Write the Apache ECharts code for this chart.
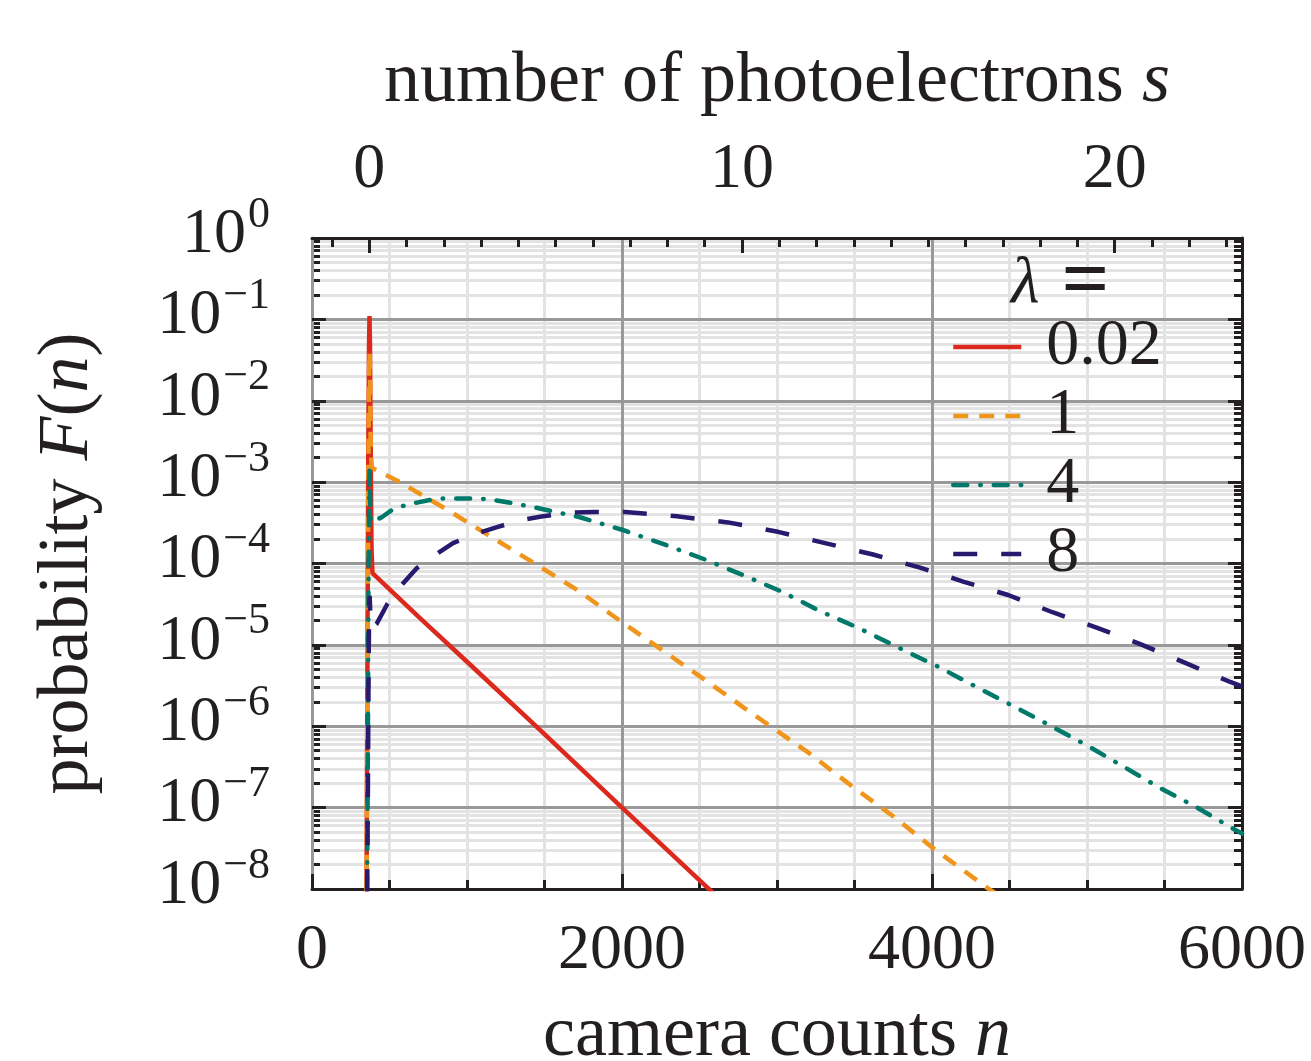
<!DOCTYPE html>
<html>
<head>
<meta charset="utf-8">
<script src="https://cdn.jsdelivr.net/npm/echarts@6/dist/echarts.min.js"></script>
<style>
html, body { margin: 0; padding: 0; background: #fff; }
#chart { width: 1311px; height: 1061px; }
</style>
</head>
<body>
<div id="chart"></div>
<script>
// values
var legendNames = ['0.02', '1', '4', '8'];

var counts002 = [340, 352, 358, 363, 368, 371, 374, 379, 384, 390, 700, 1000, 1500, 2000, 2600];
var prob002 = [1e-10, 1e-8, 1e-5, 2e-3, 5e-2, 1.1e-1, 5e-2, 2e-3, 1.5e-4, 7.6e-5, 2.1e-5, 6.2e-6, 8e-7, 1e-7, 8.5e-9];

var counts1 = [340, 352, 358, 363, 368, 371, 374, 379, 386, 567, 870, 1160, 1437, 1728, 2000, 2264, 2528, 2792, 3212, 3489, 3747, 4005, 4373, 4500];
var prob1 = [1e-10, 1e-8, 5e-6, 8e-4, 1.8e-2, 4e-2, 2e-2, 2.5e-3, 1.5e-3, 1e-3, 4.6e-4, 2.1e-4, 1e-4, 4.5e-5, 1.9e-5, 8.5e-6, 3.8e-6, 1.66e-6, 4.6e-7, 1.8e-7, 7.9e-8, 3.2e-8, 9.8e-9, 7e-9];

var counts4 = [340, 352, 360, 365, 371, 375, 380, 450, 534, 676, 811, 998, 1134, 1296, 1437, 1728, 2000, 2264, 2536, 2781, 3032, 3277, 3536, 3781, 4039, 4278, 4517, 4762, 5001, 5234, 5472, 5711, 5943, 6000];
var prob4 = [1e-10, 1e-9, 3e-7, 1e-4, 1.5e-3, 6e-4, 3.2e-4, 3.7e-4, 4.8e-4, 5.6e-4, 6.3e-4, 6.3e-4, 6.2e-4, 5.5e-4, 4.9e-4, 3.7e-4, 2.6e-4, 1.74e-4, 1.12e-4, 7.2e-5, 4.5e-5, 2.6e-5, 1.58e-5, 9.3e-6, 5.4e-6, 3.1e-6, 1.8e-6, 1.02e-6, 5.8e-7, 3.2e-7, 1.74e-7, 1.0e-7, 5.5e-8, 4.8e-8];

var counts8 = [340, 352, 360, 365, 369, 372, 376, 382, 416, 487, 577, 674, 790, 910, 1052, 1194, 1341, 1490, 1664, 1826, 2020, 2355, 2685, 3006, 3310, 3620, 3923, 4201, 4491, 4782, 5066, 5344, 5634, 5924, 6000];
var prob8 = [1e-11, 1e-9, 1e-7, 5e-6, 3e-5, 4e-5, 2.5e-5, 1.6e-5, 1.8e-5, 3.2e-5, 5.4e-5, 8.7e-5, 1.26e-4, 1.78e-4, 2.3e-4, 2.8e-4, 3.4e-4, 3.8e-4, 4.2e-4, 4.3e-4, 4.3e-4, 3.8e-4, 3.2e-4, 2.45e-4, 1.78e-4, 1.29e-4, 8.9e-5, 6.0e-5, 4.1e-5, 2.5e-5, 1.62e-5, 1.02e-5, 6.0e-6, 3.5e-6, 3.1e-6];

// top axis: photoelectron number s, n = bias + gain * s
var bias = 369;
var gain = 240.5;
var sTicks = [-1, 0, 1, 2, 3, 4, 5, 6, 7, 8, 9, 10, 11, 12, 13, 14, 15, 16, 17, 18, 19, 20, 21, 22, 23];
var sLabels = [0, 10, 20];

// decade exponents of the probability axis, labelled in two interleaved sets
var evenDecades = [-8, -6, -4, -2, 0];
var oddDecades = [-7, -5, -3, -1];
var mantissas = [2, 3, 4, 5, 6, 7, 8, 9];

var FONT = 'Liberation Serif';
var INK = '#231f20';
var MAJOR = '#999999';
var MINOR = '#e3e3e3';

function pairs(xs, ys) {
  return xs.map(function (x, i) { return [x, ys[i]]; });
}
function sToN(s) { return bias + gain * s; }

var minorLogs = [];
evenDecades.concat(oddDecades).filter(function (d) { return d < 0; }).forEach(function (d) {
  mantissas.forEach(function (m) { minorLogs.push(d + Math.log10(m)); });
});

var rich = {
  t: { fontFamily: FONT, fontSize: 72, color: INK },
  i: { fontFamily: FONT, fontSize: 72, color: INK, fontStyle: 'italic' },
  l: { fontFamily: FONT, fontSize: 66, color: INK, fontStyle: 'italic', fontWeight: 'normal' },
  q: { fontFamily: FONT, fontSize: 84, color: INK, padding: [0, 0, 0, 22] },
  b: { fontFamily: FONT, fontSize: 64, color: INK, lineHeight: 40, padding: [0, 0, 6, 0] },
  e: { fontFamily: FONT, fontSize: 44, color: INK, lineHeight: 20, padding: [0, 0, 46, 2] }
};

function powerLabel(p) {
  return '{b|10}{e|' + (p < 0 ? '\u2212' + (-p) : p) + '}';
}

function decadeLabelAxis(values) {
  return {
    type: 'value', min: -8, max: 0, position: 'left', z: 3,
    axisLine: { show: false, onZero: false }, axisTick: { show: false }, splitLine: { show: false },
    axisLabel: {
      margin: 42, customValues: values, showMinLabel: true, showMaxLabel: true, hideOverlap: false,
      formatter: function (v) { return powerLabel(Math.round(v)); },
      rich: rich
    }
  };
}

var myChart = echarts.init(document.getElementById('chart'), null, { renderer: 'canvas' });

var option = {
  backgroundColor: '#fff',
  animation: false,
  grid: { left: 312, right: 69, top: 238, bottom: 172, containLabel: false, outerBoundsMode: 'none' },
  title: {
    text: '{l|λ}{q|=}',
    left: 1006,
    top: 238,
    textStyle: { rich: rich }
  },
  legend: {
    data: legendNames,
    orient: 'vertical',
    left: 946,
    top: 309,
    itemWidth: 68,
    itemHeight: 14,
    itemGap: 3,
    itemStyle: { opacity: 0 },
    lineStyle: { width: 4.5 },
    textStyle: { fontFamily: FONT, fontSize: 66, color: INK, lineHeight: 56, padding: [0, 0, 0, 20] }
  },
  xAxis: [
    {
      type: 'value', position: 'bottom', min: 0, max: 6000, interval: 2000, z: 3,
      name: '{t|camera counts }{i|n}', nameLocation: 'middle', nameGap: 111,
      nameTextStyle: { rich: rich },
      axisLine: { show: true, onZero: false, lineStyle: { color: INK, width: 3 } },
      axisTick: { inside: true, length: 15, lineStyle: { color: INK, width: 3 } },
      minorTick: { show: true, splitNumber: 4, length: 9, lineStyle: { color: INK, width: 3 } },
      axisLabel: {
        margin: 30, fontFamily: FONT, fontSize: 64, color: INK, showMinLabel: true, showMaxLabel: true,
        formatter: function (v) { return String(v); }
      },
      splitLine: { show: true, lineStyle: { color: MAJOR, width: 3 } }
    },
    {
      type: 'value', position: 'top', min: 0, max: 6000, z: 3,
      name: '{t|number of photoelectrons }{i|s}', nameLocation: 'middle', nameGap: 120,
      nameTextStyle: { rich: rich },
      axisLine: { show: true, onZero: false, lineStyle: { color: INK, width: 3 } },
      axisTick: { inside: true, length: 9, customValues: sTicks.map(sToN), lineStyle: { color: INK, width: 3 } },
      axisLabel: {
        margin: 36, fontFamily: FONT, fontSize: 64, color: INK,
        customValues: sLabels.map(sToN),
        formatter: function (v) { return String(Math.round((v - bias) / gain)); }
      },
      splitLine: { show: false }
    },
    {
      type: 'value', position: 'top', min: 0, max: 6000, z: 3,
      axisLine: { show: false, onZero: false },
      axisTick: { inside: true, length: 15, customValues: sLabels.map(sToN), lineStyle: { color: INK, width: 3 } },
      axisLabel: { show: false },
      splitLine: { show: false }
    },
    {
      type: 'value', position: 'bottom', min: 0, max: 6000, interval: 500, z: 0,
      axisLine: { show: false, onZero: false }, axisTick: { show: false }, axisLabel: { show: false },
      splitLine: { show: true, lineStyle: { color: MINOR, width: 3 } }
    }
  ],
  yAxis: [
    {
      type: 'log', logBase: 10, min: 1e-8, max: 1, interval: 1, position: 'left', z: 3,
      name: '{t|probability }{i|F}{t|(}{i|n}{t|)}', nameLocation: 'middle', nameGap: 208,
      nameTextStyle: { rich: rich },
      axisLine: { show: true, onZero: false, lineStyle: { color: MAJOR, width: 3 } },
      axisTick: { inside: true, length: 14, lineStyle: { color: INK, width: 3 } },
      axisLabel: { show: false },
      splitLine: { show: true, lineStyle: { color: MAJOR, width: 3 } }
    },
    {
      type: 'value', min: -8, max: 0, position: 'left', z: 0,
      axisLine: { show: false, onZero: false }, axisLabel: { show: false },
      axisTick: { inside: true, length: 8, customValues: minorLogs, lineStyle: { color: INK, width: 3 } },
      splitLine: { show: true, lineStyle: { color: MINOR, width: 3 } }
    },
    {
      type: 'log', logBase: 10, min: 1e-8, max: 1, interval: 1, position: 'right', z: 3,
      axisLine: { show: true, onZero: false, lineStyle: { color: INK, width: 3 } },
      axisTick: { inside: true, length: 14, lineStyle: { color: INK, width: 3 } },
      axisLabel: { show: false },
      splitLine: { show: false }
    },
    {
      type: 'value', min: -8, max: 0, position: 'right', z: 3,
      axisLine: { show: false, onZero: false }, axisLabel: { show: false },
      axisTick: { inside: true, length: 8, customValues: minorLogs, lineStyle: { color: INK, width: 3 } },
      splitLine: { show: false }
    },
    decadeLabelAxis(evenDecades),
    decadeLabelAxis(oddDecades)
  ],
  series: [
    {
      name: '0.02', type: 'line', xAxisIndex: 0, yAxisIndex: 0, z: 10, showSymbol: false, symbol: 'none',
      lineStyle: { color: '#dc291e', width: 4.5 }, itemStyle: { color: '#dc291e' },
      data: pairs(counts002, prob002)
    },
    {
      name: '1', type: 'line', xAxisIndex: 0, yAxisIndex: 0, z: 10, showSymbol: false, symbol: 'none',
      lineStyle: { color: '#f0951b', width: 4.5, type: [15, 11] }, itemStyle: { color: '#f0951b' },
      data: pairs(counts1, prob1)
    },
    {
      name: '4', type: 'line', xAxisIndex: 0, yAxisIndex: 0, z: 10, showSymbol: false, symbol: 'none',
      lineStyle: { color: '#00796b', width: 4.5, type: [14, 13, 0.5, 13], cap: 'round' }, itemStyle: { color: '#00796b' },
      data: pairs(counts4, prob4)
    },
    {
      name: '8', type: 'line', xAxisIndex: 0, yAxisIndex: 0, z: 10, showSymbol: false, symbol: 'none',
      lineStyle: { color: '#281a6e', width: 4.5, type: [24, 24] }, itemStyle: { color: '#281a6e' },
      data: pairs(counts8, prob8)
    }
  ]
};

myChart.setOption(option, true);
</script>
</body>
</html>
